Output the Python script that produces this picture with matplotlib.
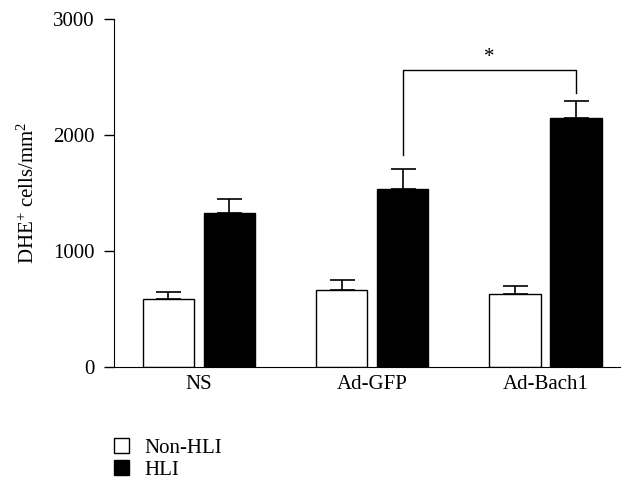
import numpy as np
import matplotlib
matplotlib.use("Agg")
import matplotlib.pyplot as plt

plt.rcParams['font.family'] = ['Liberation Serif', 'DejaVu Serif']
plt.rcParams['mathtext.default'] = 'regular'

groups = ["NS", "Ad-GFP", "Ad-Bach1"]
non_hli = [584, 664, 627]
non_hli_err = [67, 86, 71]
hli = [1330, 1537, 2144]
hli_err = [121, 173, 152]

fig = plt.figure(figsize=(6.25, 4.84), dpi=100)
ax = fig.add_axes([0.1824, 0.2417, 0.8096, 0.719])

x = np.arange(len(groups))
w = 0.295
off = 0.176

b1 = ax.bar(x - off, non_hli, w, color="white", edgecolor="black", linewidth=1.0,
            label="Non-HLI", zorder=2)
b2 = ax.bar(x + off, hli, w, color="black", edgecolor="black", linewidth=1.0,
            label="HLI", zorder=2)
# one-sided error bars (upper only)
ax.errorbar(x - off, non_hli, yerr=[np.zeros(3), non_hli_err], fmt="none",
            ecolor="black", elinewidth=1.2, capsize=9, capthick=1.2, zorder=1)
ax.errorbar(x + off, hli, yerr=[np.zeros(3), hli_err], fmt="none",
            ecolor="black", elinewidth=1.2, capsize=9, capthick=1.2, zorder=1)

# significance bracket between Ad-GFP HLI and Ad-Bach1 HLI
top = 2560
ax.plot([x[1] + off, x[1] + off, x[2] + off, x[2] + off],
        [hli[1] + hli_err[1] + 118, top, top, hli[2] + hli_err[2] + 64],
        color="black", linewidth=1.0)
ax.text((x[1] + x[2]) / 2 + off, top + 30, "*", ha="center", va="bottom", fontsize=15)

ax.set_xlim(-0.49, 2.43)
ax.set_ylim(0, 3000)
ax.set_yticks([0, 1000, 2000, 3000])
ax.set_xticks(x)
ax.set_xticklabels(groups, fontsize=15)
ax.tick_params(axis="y", labelsize=15, length=7, width=1.0, direction="out", pad=7)
ax.tick_params(axis="x", length=0, pad=6)
ax.spines["top"].set_visible(False)
ax.spines["right"].set_visible(False)
ax.set_ylabel("DHE$^{+}$ cells/mm$^{2}$", fontsize=15, labelpad=10)

fig.legend(handles=[b1, b2], loc="upper left", bbox_to_anchor=(0.166, 0.116),
           frameon=False, fontsize=15, handlelength=0.7, handleheight=0.7,
           handletextpad=0.75, labelspacing=0.1, borderpad=0)

fig.savefig("out.png", dpi=100)
